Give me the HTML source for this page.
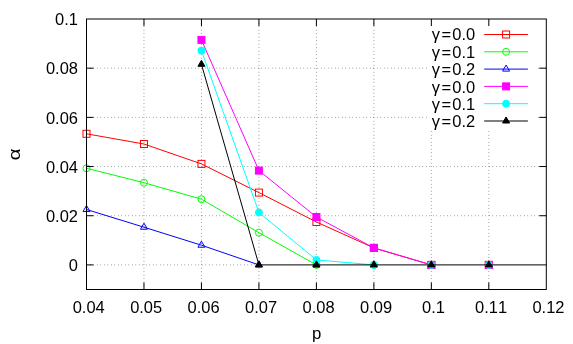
<!DOCTYPE html><html><head><meta charset="utf-8"><style>html,body{margin:0;padding:0;background:#fff}svg{display:block;will-change:transform}text{font-family:"Liberation Sans",sans-serif;fill:#000}</style></head><body>
<svg width="573" height="344" viewBox="0 0 573 344">
<rect width="573" height="344" fill="#fff"/>
<g stroke="#000" stroke-width="0.6" stroke-dasharray="0.6 2.9" fill="none">
<line x1="143.97500000000002" y1="289.5" x2="143.97500000000002" y2="19.0"/>
<line x1="201.44999999999996" y1="289.5" x2="201.44999999999996" y2="19.0"/>
<line x1="258.925" y1="289.5" x2="258.925" y2="19.0"/>
<line x1="316.4" y1="289.5" x2="316.4" y2="19.0"/>
<line x1="373.87499999999994" y1="289.5" x2="373.87499999999994" y2="19.0"/>
<line x1="431.34999999999997" y1="289.5" x2="431.34999999999997" y2="19.0"/>
<line x1="488.825" y1="289.5" x2="488.825" y2="19.0"/>
<line x1="86.5" y1="68.18" x2="546.30" y2="68.18"/>
<line x1="86.5" y1="117.36" x2="546.30" y2="117.36"/>
<line x1="86.5" y1="166.54" x2="546.30" y2="166.54"/>
<line x1="86.5" y1="215.72" x2="546.30" y2="215.72"/>
<line x1="86.5" y1="264.90" x2="258.93" y2="264.90"/>
</g>
<text transform="translate(0,25.20) scale(1.056,1)" x="52.18 60.85 65.19" y="0" font-size="15.6">0.1</text>
<text transform="translate(0,74.38) scale(1.056,1)" x="43.50 52.18 56.51 65.19" y="0" font-size="15.6">0.08</text>
<text transform="translate(0,123.56) scale(1.056,1)" x="43.50 52.18 56.51 65.19" y="0" font-size="15.6">0.06</text>
<text transform="translate(0,172.74) scale(1.056,1)" x="43.50 52.18 56.51 65.19" y="0" font-size="15.6">0.04</text>
<text transform="translate(0,221.92) scale(1.056,1)" x="43.50 52.18 56.51 65.19" y="0" font-size="15.6">0.02</text>
<text transform="translate(0,271.10) scale(1.056,1)" x="65.19" y="0" font-size="15.6">0</text>
<text transform="translate(0,312.60) scale(1.056,1)" x="68.81 77.49 81.83 90.50" y="0" font-size="15.6">0.04</text>
<text transform="translate(0,312.60) scale(1.056,1)" x="123.24 131.92 136.25 144.93" y="0" font-size="15.6">0.05</text>
<text transform="translate(0,312.60) scale(1.056,1)" x="177.67 186.35 190.68 199.36" y="0" font-size="15.6">0.06</text>
<text transform="translate(0,312.60) scale(1.056,1)" x="232.10 240.77 245.11 253.78" y="0" font-size="15.6">0.07</text>
<text transform="translate(0,312.60) scale(1.056,1)" x="286.52 295.20 299.53 308.21" y="0" font-size="15.6">0.08</text>
<text transform="translate(0,312.60) scale(1.056,1)" x="340.95 349.63 353.96 362.64" y="0" font-size="15.6">0.09</text>
<text transform="translate(0,312.60) scale(1.056,1)" x="399.72 408.39 412.73" y="0" font-size="15.6">0.1</text>
<text transform="translate(0,312.60) scale(1.056,1)" x="449.80 458.48 462.82 471.49" y="0" font-size="15.6">0.11</text>
<text transform="translate(0,312.60) scale(1.056,1)" x="504.23 512.91 517.24 525.92" y="0" font-size="15.6">0.12</text>
<text transform="translate(0,338.50) scale(1.0,1)" x="311.93" y="0" font-size="16.8">p</text>
<text transform="translate(20.2,154.5) rotate(-90) translate(0,0.00) scale(1.35,1)" x="-4.51" y="0" font-size="15.6">α</text>
<polyline points="86.50,133.80 143.98,144.00 201.45,163.90 258.93,192.60 316.40,222.00 373.87,247.90 431.35,264.90" fill="none" stroke="#ff0000" stroke-width="1" stroke-linejoin="round"/>
<rect x="83.00" y="130.30" width="7.0" height="7.0" fill="none" stroke="#ff0000" stroke-width="1"/>
<rect x="140.48" y="140.50" width="7.0" height="7.0" fill="none" stroke="#ff0000" stroke-width="1"/>
<rect x="197.95" y="160.40" width="7.0" height="7.0" fill="none" stroke="#ff0000" stroke-width="1"/>
<rect x="255.43" y="189.10" width="7.0" height="7.0" fill="none" stroke="#ff0000" stroke-width="1"/>
<rect x="312.90" y="218.50" width="7.0" height="7.0" fill="none" stroke="#ff0000" stroke-width="1"/>
<rect x="370.37" y="244.40" width="7.0" height="7.0" fill="none" stroke="#ff0000" stroke-width="1"/>
<rect x="427.85" y="261.40" width="7.0" height="7.0" fill="none" stroke="#ff0000" stroke-width="1"/>
<rect x="485.32" y="261.40" width="7.0" height="7.0" fill="none" stroke="#ff0000" stroke-width="1"/>
<polyline points="86.50,168.30 143.98,182.70 201.45,199.20 258.93,232.70 316.40,264.90" fill="none" stroke="#00ff00" stroke-width="1" stroke-linejoin="round"/>
<circle cx="86.50" cy="168.30" r="3.5" fill="none" stroke="#00ff00" stroke-width="1"/>
<circle cx="143.98" cy="182.70" r="3.5" fill="none" stroke="#00ff00" stroke-width="1"/>
<circle cx="201.45" cy="199.20" r="3.5" fill="none" stroke="#00ff00" stroke-width="1"/>
<circle cx="258.93" cy="232.70" r="3.5" fill="none" stroke="#00ff00" stroke-width="1"/>
<circle cx="316.40" cy="264.90" r="3.5" fill="none" stroke="#00ff00" stroke-width="1"/>
<circle cx="373.87" cy="264.90" r="3.5" fill="none" stroke="#00ff00" stroke-width="1"/>
<circle cx="431.35" cy="264.90" r="3.5" fill="none" stroke="#00ff00" stroke-width="1"/>
<circle cx="488.82" cy="264.90" r="3.5" fill="none" stroke="#00ff00" stroke-width="1"/>
<polyline points="86.50,209.50 143.98,227.20 201.45,245.20 258.93,264.90" fill="none" stroke="#0000ff" stroke-width="1" stroke-linejoin="round"/>
<path d="M83.00,211.52 L86.50,205.46 L90.00,211.52 Z" fill="none" stroke="#0000ff" stroke-width="1"/>
<path d="M140.48,229.22 L143.98,223.16 L147.48,229.22 Z" fill="none" stroke="#0000ff" stroke-width="1"/>
<path d="M197.95,247.22 L201.45,241.16 L204.95,247.22 Z" fill="none" stroke="#0000ff" stroke-width="1"/>
<path d="M255.43,266.92 L258.93,260.86 L262.43,266.92 Z" fill="none" stroke="#0000ff" stroke-width="1"/>
<path d="M312.90,266.92 L316.40,260.86 L319.90,266.92 Z" fill="none" stroke="#0000ff" stroke-width="1"/>
<path d="M370.37,266.92 L373.87,260.86 L377.37,266.92 Z" fill="none" stroke="#0000ff" stroke-width="1"/>
<path d="M427.85,266.92 L431.35,260.86 L434.85,266.92 Z" fill="none" stroke="#0000ff" stroke-width="1"/>
<path d="M485.32,266.92 L488.82,260.86 L492.32,266.92 Z" fill="none" stroke="#0000ff" stroke-width="1"/>
<polyline points="201.45,39.90 258.93,170.60 316.40,217.00 373.87,247.90 431.35,264.90" fill="none" stroke="#ff00ff" stroke-width="1" stroke-linejoin="round"/>
<rect x="197.95" y="36.40" width="7.0" height="7.0" fill="#ff00ff" stroke="#ff00ff" stroke-width="1"/>
<rect x="255.43" y="167.10" width="7.0" height="7.0" fill="#ff00ff" stroke="#ff00ff" stroke-width="1"/>
<rect x="312.90" y="213.50" width="7.0" height="7.0" fill="#ff00ff" stroke="#ff00ff" stroke-width="1"/>
<rect x="370.37" y="244.40" width="7.0" height="7.0" fill="#ff00ff" stroke="#ff00ff" stroke-width="1"/>
<rect x="427.85" y="261.40" width="7.0" height="7.0" fill="#ff00ff" stroke="#ff00ff" stroke-width="1"/>
<rect x="485.32" y="261.40" width="7.0" height="7.0" fill="#ff00ff" stroke="#ff00ff" stroke-width="1"/>
<polyline points="201.45,50.60 258.93,212.50 316.40,259.90 373.87,264.90" fill="none" stroke="#00ffff" stroke-width="1" stroke-linejoin="round"/>
<circle cx="201.45" cy="50.60" r="3.5" fill="#00ffff" stroke="#00ffff" stroke-width="1"/>
<circle cx="258.93" cy="212.50" r="3.5" fill="#00ffff" stroke="#00ffff" stroke-width="1"/>
<circle cx="316.40" cy="259.90" r="3.5" fill="#00ffff" stroke="#00ffff" stroke-width="1"/>
<circle cx="373.87" cy="264.90" r="3.5" fill="#00ffff" stroke="#00ffff" stroke-width="1"/>
<circle cx="431.35" cy="264.90" r="3.5" fill="#00ffff" stroke="#00ffff" stroke-width="1"/>
<circle cx="488.82" cy="264.90" r="3.5" fill="#00ffff" stroke="#00ffff" stroke-width="1"/>
<polyline points="201.45,64.30 258.93,264.90 316.40,264.90 373.87,264.90 431.35,264.90 488.82,264.90 546.30,264.90" fill="none" stroke="#000000" stroke-width="1" stroke-linejoin="round"/>
<path d="M197.95,66.32 L201.45,60.26 L204.95,66.32 Z" fill="#000000" stroke="#000000" stroke-width="1"/>
<path d="M255.43,266.92 L258.93,260.86 L262.43,266.92 Z" fill="#000000" stroke="#000000" stroke-width="1"/>
<path d="M312.90,266.92 L316.40,260.86 L319.90,266.92 Z" fill="#000000" stroke="#000000" stroke-width="1"/>
<path d="M370.37,266.92 L373.87,260.86 L377.37,266.92 Z" fill="#000000" stroke="#000000" stroke-width="1"/>
<path d="M427.85,266.92 L431.35,260.86 L434.85,266.92 Z" fill="#000000" stroke="#000000" stroke-width="1"/>
<path d="M485.32,266.92 L488.82,260.86 L492.32,266.92 Z" fill="#000000" stroke="#000000" stroke-width="1"/>
<rect x="429" y="19" width="108.5" height="111.3" fill="#fff"/>
<g stroke="#000" stroke-width="1" fill="none">
<line x1="143.97500000000002" y1="289.5" x2="143.97500000000002" y2="282.5"/><line x1="143.97500000000002" y1="19.0" x2="143.97500000000002" y2="26.0"/>
<line x1="201.44999999999996" y1="289.5" x2="201.44999999999996" y2="282.5"/><line x1="201.44999999999996" y1="19.0" x2="201.44999999999996" y2="26.0"/>
<line x1="258.925" y1="289.5" x2="258.925" y2="282.5"/><line x1="258.925" y1="19.0" x2="258.925" y2="26.0"/>
<line x1="316.4" y1="289.5" x2="316.4" y2="282.5"/><line x1="316.4" y1="19.0" x2="316.4" y2="26.0"/>
<line x1="373.87499999999994" y1="289.5" x2="373.87499999999994" y2="282.5"/><line x1="373.87499999999994" y1="19.0" x2="373.87499999999994" y2="26.0"/>
<line x1="431.34999999999997" y1="289.5" x2="431.34999999999997" y2="282.5"/><line x1="431.34999999999997" y1="19.0" x2="431.34999999999997" y2="26.0"/>
<line x1="488.825" y1="289.5" x2="488.825" y2="282.5"/><line x1="488.825" y1="19.0" x2="488.825" y2="26.0"/>
<line x1="86.5" y1="68.18" x2="93.5" y2="68.18"/>
<line x1="546.3" y1="68.18" x2="539.3" y2="68.18"/>
<line x1="86.5" y1="117.36" x2="93.5" y2="117.36"/>
<line x1="546.3" y1="117.36" x2="539.3" y2="117.36"/>
<line x1="86.5" y1="166.54" x2="93.5" y2="166.54"/>
<line x1="546.3" y1="166.54" x2="539.3" y2="166.54"/>
<line x1="86.5" y1="215.72" x2="93.5" y2="215.72"/>
<line x1="546.3" y1="215.72" x2="539.3" y2="215.72"/>
<line x1="86.5" y1="264.90" x2="93.5" y2="264.90"/>
</g>
<rect x="86.5" y="19.0" width="459.79999999999995" height="270.5" fill="none" stroke="#000" stroke-width="1"/>
<text transform="translate(0,40.10) scale(1.056,1)" x="408.95 418.05 428.31 436.99 441.32" y="0" font-size="15.6">γ=0.0</text>
<line x1="484.2" y1="34.50" x2="527.9" y2="34.50" stroke="#ff0000" stroke-width="1"/>
<rect x="502.60" y="31.00" width="7.0" height="7.0" fill="none" stroke="#ff0000" stroke-width="1"/>
<text transform="translate(0,58.05) scale(1.056,1)" x="408.95 418.05 428.31 436.99 441.32" y="0" font-size="15.6">γ=0.1</text>
<line x1="484.2" y1="51.80" x2="527.9" y2="51.80" stroke="#00ff00" stroke-width="1"/>
<circle cx="506.10" cy="51.80" r="3.5" fill="none" stroke="#00ff00" stroke-width="1"/>
<text transform="translate(0,75.35) scale(1.056,1)" x="408.95 418.05 428.31 436.99 441.32" y="0" font-size="15.6">γ=0.2</text>
<line x1="484.2" y1="69.10" x2="527.9" y2="69.10" stroke="#0000ff" stroke-width="1"/>
<path d="M502.60,71.12 L506.10,65.06 L509.60,71.12 Z" fill="none" stroke="#0000ff" stroke-width="1"/>
<text transform="translate(0,92.65) scale(1.056,1)" x="408.95 418.05 428.31 436.99 441.32" y="0" font-size="15.6">γ=0.0</text>
<line x1="484.2" y1="86.40" x2="527.9" y2="86.40" stroke="#ff00ff" stroke-width="1"/>
<rect x="502.60" y="82.90" width="7.0" height="7.0" fill="#ff00ff" stroke="#ff00ff" stroke-width="1"/>
<text transform="translate(0,109.95) scale(1.056,1)" x="408.95 418.05 428.31 436.99 441.32" y="0" font-size="15.6">γ=0.1</text>
<line x1="484.2" y1="103.70" x2="527.9" y2="103.70" stroke="#00ffff" stroke-width="1"/>
<circle cx="506.10" cy="103.70" r="3.5" fill="#00ffff" stroke="#00ffff" stroke-width="1"/>
<text transform="translate(0,127.25) scale(1.056,1)" x="408.95 418.05 428.31 436.99 441.32" y="0" font-size="15.6">γ=0.2</text>
<line x1="484.2" y1="121.00" x2="527.9" y2="121.00" stroke="#000000" stroke-width="1"/>
<path d="M502.60,123.02 L506.10,116.96 L509.60,123.02 Z" fill="#000000" stroke="#000000" stroke-width="1"/>
</svg></body></html>
